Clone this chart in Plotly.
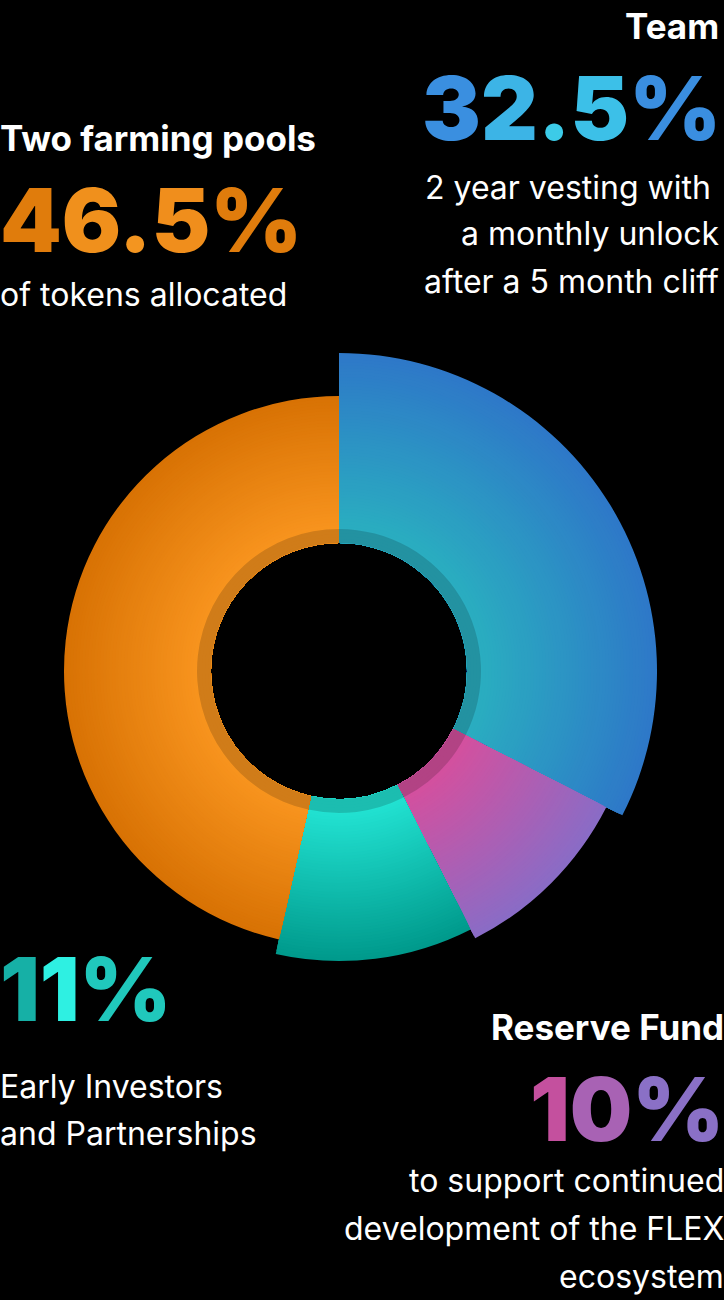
import numpy as np
import plotly.graph_objects as go

# ---------------- data ----------------
categories = ["Team", "Reserve Fund", "Early Investors and Partnerships", "Two farming pools"]
shares = [32.5, 10.0, 11.0, 46.5]          # percent of tokens
share_labels = ["32.5%", "10%", "11%", "46.5%"]

# ---------------- style ----------------
W, H = 724, 1300
CX, CY = 339, 671           # pixel centre of the donut
R = 330                     # pixel radius of polar domain (1 radial unit = 1 px)
HOLE, RING = 128, 142
outer_r = [318, 300, 290, 275]
inner_col = ["#2aaec0", "#d4509e", "#22e2d2", "#f8941e"]
outer_col = ["#2e78c8", "#8a6cc6", "#009a8c", "#d87204"]


def hex2rgb(h):
    h = h.lstrip("#")
    return [int(h[i:i + 2], 16) for i in (0, 2, 4)]


def mix(c1, c2, t):
    a, b = hex2rgb(c1), hex2rgb(c2)
    return "rgb(%d,%d,%d)" % tuple(round(a[k] + (b[k] - a[k]) * t) for k in range(3))


total = sum(shares)
widths = [s / total * 360 for s in shares]
starts = list(np.cumsum([0] + widths[:-1]))
centres = [s + w / 2 for s, w in zip(starts, widths)]

fig = go.Figure()
for i in range(len(shares)):
    radii = list(range(outer_r[i], HOLE, -3))
    cols = [mix(inner_col[i], outer_col[i],
                min(1, max(0, (r - RING) / (outer_r[i] - RING)))) for r in radii]
    fig.add_trace(go.Barpolar(
        theta=[centres[i]] * len(radii),
        width=[widths[i]] * len(radii),
        base=[HOLE] * len(radii),
        r=[r - HOLE for r in radii],
        marker=dict(color=cols, line=dict(width=0)),
        name=categories[i], hoverinfo="skip", showlegend=False))

# darker inner ring
fig.add_trace(go.Barpolar(
    theta=centres, width=widths, base=[HOLE] * 4, r=[RING - HOLE] * 4,
    marker=dict(color="rgba(0,0,0,0.16)", line=dict(width=0)),
    hoverinfo="skip", showlegend=False))

fig.update_layout(
    width=W, height=H,
    margin=dict(l=0, r=0, t=0, b=0),
    paper_bgcolor="black", plot_bgcolor="black",
    showlegend=False,
    polar=dict(
        domain=dict(x=[(CX - R) / W, (CX + R) / W], y=[1 - (CY + R) / H, 1 - (CY - R) / H]),
        bgcolor="rgba(0,0,0,0)",
        barmode="overlay",
        radialaxis=dict(range=[0, R], visible=False),
        angularaxis=dict(visible=False, direction="clockwise", rotation=90),
    ),
)

FONT = "Inter"
BIG, HEAD, BODY = 88, 35, 32


def txt(text, x, y, size, anchor, color="white", weight=400):
    fig.add_annotation(
        text=text, xref="paper", yref="paper", x=x / W, y=1 - y / H,
        xanchor=anchor, yanchor="middle", showarrow=False,
        borderpad=0, borderwidth=0,
        font=dict(family=FONT, size=size, color=color, weight=weight))


def grad_text(s, colors):
    return "".join('<span style="color:%s">%s</span>' % (c, ch) for ch, c in zip(s, colors))


# Team (top right)
txt(categories[0], 719, 26, HEAD, "right", weight=700)
txt(grad_text(share_labels[0], ["#3a8fe0", "#3cb4e6", "#3ccbe8", "#3cc0e8", "#3a8ee0"]),
    721, 108, BIG, "right", weight=900)
for j, line in enumerate(["2 year vesting with", "a monthly unlock", "after a 5 month cliff"]):
    txt(line, 719 if j else 711, 187 + 47 * j, BODY, "right")

# Farming (top left)
txt(categories[3], 0, 138, HEAD, "left", weight=700)
txt(grad_text(share_labels[3], ["#e07c0c", "#f0901c", "#f39520", "#f08e1c", "#e07c0c"]),
    0, 220, BIG, "left", weight=900)
txt("of tokens allocated", 0, 295, BODY, "left")

# Early investors (bottom left)
txt(grad_text(share_labels[2], ["#16b0a6", "#2ef0e2", "#20c8bc"]), 0, 989, BIG, "left", weight=900)
txt("Early Investors", 0, 1086, BODY, "left")
txt("and Partnerships", 0, 1133, BODY, "left")

# Reserve (bottom right)
txt(categories[1], 724, 1027, HEAD, "right", weight=700)
txt(grad_text(share_labels[1], ["#c4509e", "#a862b4", "#8a70c6"]), 724, 1109, BIG, "right", weight=900)
for j, line in enumerate(["to support continued", "development of the FLEX", "ecosystem"]):
    txt(line, 724, 1180 + 48 * j, BODY, "right")

fig.write_html("out.html")
